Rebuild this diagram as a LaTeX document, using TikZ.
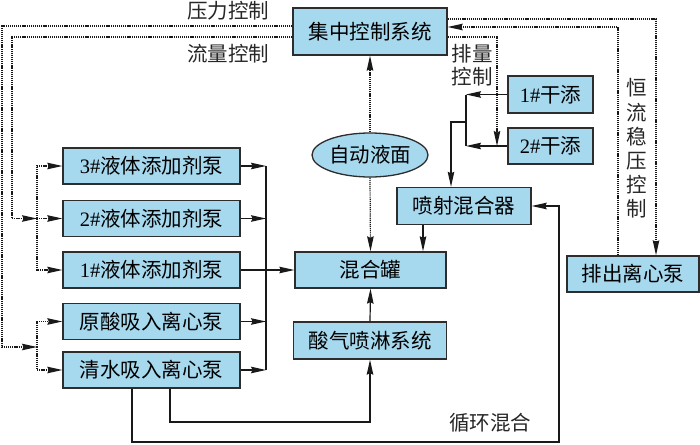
\documentclass[tikz,border=0pt]{standalone}
\usepackage{fontspec}
\setmainfont{Liberation Serif}
\newfontfamily\cjk{Noto Sans CJK SC}
\usetikzlibrary{arrows.meta,shapes.geometric,calc}
\definecolor{boxfill}{RGB}{166,216,238}
\definecolor{boxline}{RGB}{45,45,45}
\definecolor{lineclr}{RGB}{25,25,25}
\tikzset{
  boxnode/.style={draw=boxline,fill=boxfill,line width=1.3pt,inner sep=0pt,
    minimum height=36pt,font=\cjk\fontsize{20.5}{24}\selectfont},
  lbl/.style={inner sep=0pt,font=\cjk\fontsize{20.5}{24}\selectfont,text=black!85},
  arrowed/.style={-{Stealth[length=15pt,width=6.5pt,inset=1.5pt]}},
  flow/.style={draw=lineclr,line width=1.2pt},
  dotline/.style={draw=lineclr,line width=1.2pt,dash pattern=on 1.2pt off 0.9pt},
}
\begin{document}
\begin{tikzpicture}[x=1pt,y=-1pt]
\useasboundingbox (0,0) rectangle (700,444);
% nodes
\node[boxnode,minimum width=154pt,minimum height=47pt] (ctrl) at (370,31.5) {集中控制系统};
\node[boxnode,minimum width=177pt] (a3) at (151.5,166) {\textrm{3\#}液体添加剂泵};
\node[boxnode,minimum width=177pt] (a2) at (151.5,218.5) {\textrm{2\#}液体添加剂泵};
\node[boxnode,minimum width=177pt] (a1) at (151.5,270) {\textrm{1\#}液体添加剂泵};
\node[boxnode,minimum width=177pt] (yuan) at (151.5,321.5) {原酸吸入离心泵};
\node[boxnode,minimum width=177pt] (qing) at (151.5,370) {清水吸入离心泵};
\node[boxnode,minimum width=151pt] (mix) at (370.5,270) {混合罐};
\node[boxnode,ellipse,minimum width=114pt,minimum height=44pt] (auto) at (370,155) {自动液面};
\node[boxnode,minimum width=134pt,minimum height=37pt] (spray) at (464,206) {喷射混合器};
\node[boxnode,minimum width=85pt,minimum height=37pt] (g1) at (550.5,94.5) {\textrm{1\#}干添};
\node[boxnode,minimum width=85pt] (g2) at (550.5,146) {\textrm{2\#}干添};
\node[boxnode,minimum width=132pt] (pai) at (633,274) {排出离心泵};
\node[boxnode,minimum width=153pt,minimum height=37pt] (acid) at (370,340.5) {酸气喷淋系统};
% labels
\node[lbl] (lp) at (228,11) {压力控制};
\node[lbl] (lf) at (228,54) {流量控制};
\node[lbl,align=center,font=\cjk\fontsize{20.5}{23}\selectfont] (lq) at (472,65.5) {排量\\控制};
\node[lbl,align=center,font=\cjk\fontsize{20.5}{24.2}\selectfont] (lh) at (637,148.5) {恒\\流\\稳\\压\\控\\制};
\node[lbl] (lx) at (490,423) {循环混合};
% coordinates
\coordinate (pb) at (37,347);
\coordinate (pc) at (2,347);
\coordinate (fb) at (37,218.5);
\coordinate (fc) at (12,218.5);
\coordinate (busx) at (266,0);
\coordinate (sx) at (423,0);
\coordinate (dx) at (466,0);
\coordinate (dj) at (466,122);
\coordinate (dk) at (451,122);
\coordinate (plx) at (497,0);
\coordinate (y422) at (0,422);
\coordinate (rl) at (559,442);
% pressure control (outer dotted)
\draw[dotline,arrowed] ([yshift=5.5pt]ctrl.west) -| (pc) -- (pb);
\draw[dotline,arrowed] (pb) |- (yuan.west);
\draw[dotline,arrowed] (pb) |- (qing.west);
% flow control (inner dotted)
\draw[dotline,arrowed] ([yshift=-5.5pt]ctrl.west) -| (fc) -- (fb);
\draw[dotline,arrowed] (fb) |- (a3.west);
\draw[dotline,arrowed] (fb) -- (a2.west);
\draw[dotline,arrowed] (fb) |- (a1.west);
% pumps to bus
\draw[flow,arrowed] (a3.east) -- (a3.east -| busx);
\draw[flow,arrowed] (a2.east) -- (a2.east -| busx);
\draw[flow,arrowed] (yuan.east) -- (yuan.east -| busx);
\draw[flow,arrowed] (qing.east) -- (qing.east -| busx);
\draw[flow] (a3.east -| busx) -- (qing.east -| busx);
\draw[flow,arrowed] (a1.east) -- (mix.west);
% level sensor
\draw[dotline,arrowed] (auto.north) -- (ctrl.south);
\draw[dotline,arrowed] (auto.south) -- (mix.north);
% sprayer to tank
\draw[flow,arrowed] (sx |- spray.south) -- (sx |- mix.north);
% dry additives
\draw[flow,arrowed] (g1.west) -- (g1.west -| dx);
\draw[flow,arrowed] (g2.west) -- (g2.west -| dx);
\draw[flow] (g1.west -| dx) -- (g2.west -| dx);
\draw[flow,arrowed] (dj) -- (dk) -- (dk |- spray.north);
% displacement control
\draw[dotline,arrowed] ([yshift=-5.5pt]ctrl.east) -| (plx |- g2.west);
% constant flow / pressure control
\draw[dotline,arrowed] ([yshift=12.5pt]ctrl.east) -| ([xshift=23pt]pai.north);
\draw[dotline,arrowed] ([xshift=-15pt]pai.north) |- ([yshift=4.5pt]ctrl.east);
% acid gas spray
\draw[flow,arrowed] (acid.north) -- (mix.south);
\draw[flow,arrowed] ([xshift=18.5pt]qing.south) |- (y422 -| acid.south) -- (acid.south);
% circulation
\draw[flow,arrowed] ([xshift=-19.5pt]qing.south) |- (rl) |- (spray.east);
\end{tikzpicture}
\end{document}
